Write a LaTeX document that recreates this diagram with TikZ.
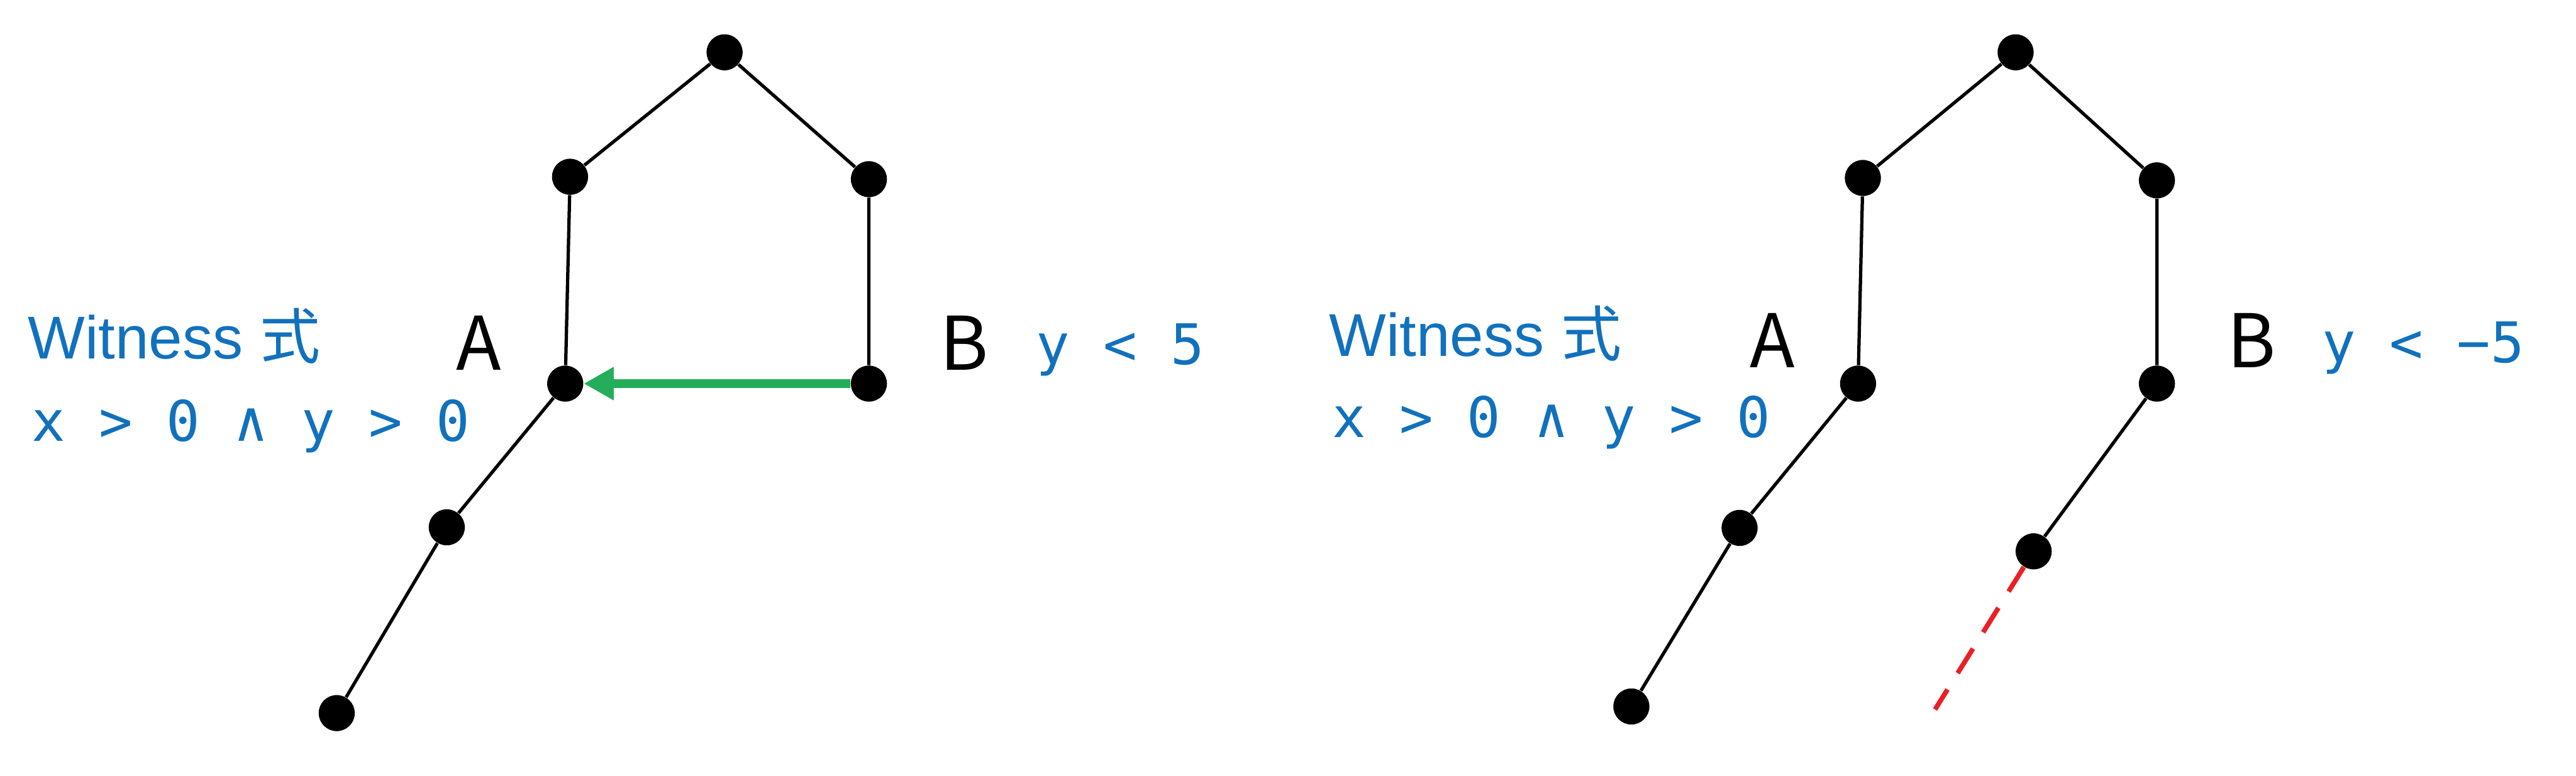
\documentclass[tikz,border=0pt]{standalone}
\usepackage{fontspec}
\setmainfont{Liberation Sans}
\newfontfamily\jpfont{Noto Sans CJK JP}
\newfontfamily\codefont{DejaVu Sans Mono}
\usetikzlibrary{arrows.meta}
\definecolor{wblue}{RGB}{17,113,189}
\definecolor{wgreen}{RGB}{36,174,91}
\definecolor{wred}{RGB}{235,32,37}
\begin{document}
\begin{tikzpicture}[
    dot/.style={circle,fill=black,inner sep=0pt,minimum size=0.6cm},
    edge/.style={line width=0.055cm},
    lbl/.style={font=\jpfont\fontsize{35}{35}\selectfont,anchor=base,inner sep=0pt},
    cond/.style={font=\codefont\fontsize{26.5}{26.5}\selectfont,text=wblue,anchor=base west,inner sep=0pt},
    wtitle/.style={font=\fontsize{28.6}{28.6}\selectfont,text=wblue,anchor=base west,inner sep=0pt}]
        \useasboundingbox (0,0) rectangle (42.84,-12.90);
        % left tree
        \node[dot] (lt) at (12.05,-0.87) {};
        \node[dot] (ll) at (9.48,-2.94) {};
        \node[dot] (lr) at (14.45,-2.98) {};
        \node[dot] (la) at (9.40,-6.38) {};
        \node[dot] (lb) at (14.45,-6.38) {};
        \node[dot] (lc) at (7.43,-8.77) {};
        \node[dot] (ld) at (5.60,-11.86) {};
        \draw[edge] (lt) -- (ll) -- (la) -- (lc) -- (ld);
        \draw[edge] (lt) -- (lr) -- (lb);
        \draw[wgreen,line width=0.14cm,-{Triangle[length=0.5cm,width=0.52cm]}] (lb) -- (la);
        \node[wtitle] (lw) at (0.46,-5.97) {Witness {\jpfont 式}};
        \node[cond] (lf) at (0.52,-7.34) {x > 0 ∧ y > 0};
        \node[lbl] (lA) at (7.96,-6.16) {A};
        \node[lbl] (lB) at (16.03,-6.16) {B};
        \node[cond] (lg) at (17.22,-6.06) {y < 5};
        % right tree
        \node[dot] (rt) at (33.52,-0.87) {};
        \node[dot] (rl) at (30.98,-2.96) {};
        \node[dot] (rr) at (35.87,-3.00) {};
        \node[dot] (ra) at (30.90,-6.38) {};
        \node[dot] (rb) at (35.87,-6.38) {};
        \node[dot] (rc) at (28.93,-8.78) {};
        \node[dot] (rd) at (27.13,-11.75) {};
        \node[dot] (re) at (33.82,-9.17) {};
        \coordinate (rx) at (32.18,-11.80);
        \draw[edge] (rt) -- (rl) -- (ra) -- (rc) -- (rd);
        \draw[edge] (rt) -- (rr) -- (rb) -- (re);
        \draw[wred,line width=0.08cm,dash pattern=on 0.48cm off 0.32cm] (re) -- (rx);
        \node[wtitle] (rw) at (22.10,-5.92) {Witness {\jpfont 式}};
        \node[cond] (rf) at (22.15,-7.27) {x > 0 ∧ y > 0};
        \node[lbl] (rA) at (29.48,-6.11) {A};
        \node[lbl] (rB) at (37.44,-6.11) {B};
        \node[cond] (rg) at (38.61,-6.03) {y < −5};
\end{tikzpicture}
\end{document}
